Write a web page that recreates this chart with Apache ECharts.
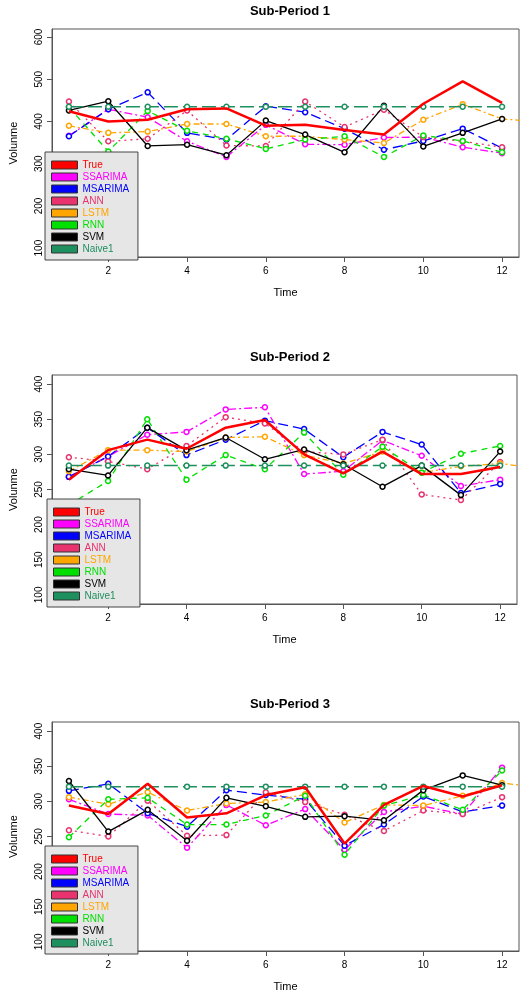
<!DOCTYPE html>
<html><head><meta charset="utf-8">
<script src="https://cdn.jsdelivr.net/npm/echarts@6/dist/echarts.min.js"></script>
<style>html,body{margin:0;background:#fff}#c{width:520px;height:999px}</style>
</head><body><div id="c"></div>
<script>
var names = ['True', 'SSARIMA', 'MSARIMA', 'ANN', 'LSTM', 'RNN', 'SVM', 'Naive1']
var colors = ['#ff0000', '#ff00ff', '#0000ff', '#e8336e', '#ffa500', '#00e000', '#000000', '#1e8f5e']
// sub-period 1 (t = 1..12, LSTM has a 13th point running off the plot)
var p1True = [424, 400, 404, 429, 431, 390, 392, 380, 369, 442, 495, 444]
var p1Ssarima = [366, 429, 410, 353, 316, 392, 346, 345, 362, 363, 339, 325]
var p1Msarima = [365, 429, 469, 373, 357, 436, 422, 383, 333, 354, 383, 337]
var p1Ann = [447, 353, 359, 426, 343, 342, 447, 387, 428, 363, 353, 339]
var p1Lstm = [390, 373, 376, 394, 394, 365, 365, 357, 349, 404, 441, 406, 399]
var p1Rnn = [434, 329, 425, 378, 359, 335, 357, 365, 316, 367, 354, 327]
var p1Svm = [426, 448, 342, 345, 320, 402, 369, 327, 437, 341, 373, 406]
var p1Naive = [435, 435, 435, 435, 435, 435, 435, 435, 435, 435, 435, 435]
// sub-period 2
var p2True = [264, 306, 321, 308, 338, 349, 300, 273, 304, 272, 272, 282]
var p2Ssarima = [268, 297, 328, 332, 364, 367, 272, 276, 320, 298, 255, 264]
var p2Msarima = [268, 297, 338, 299, 321, 348, 336, 296, 332, 314, 245, 258]
var p2Ann = [296, 290, 279, 312, 353, 344, 304, 300, 321, 243, 235, 289]
var p2Lstm = [276, 306, 306, 304, 324, 325, 299, 287, 304, 274, 283, 287, 280]
var p2Rnn = [228, 262, 350, 264, 299, 279, 331, 271, 311, 274, 301, 312]
var p2Svm = [279, 270, 338, 306, 324, 293, 307, 286, 254, 284, 242, 304]
var p2Naive = [284, 284, 284, 284, 284, 284, 284, 284, 284, 284, 284, 284]
// sub-period 3
var p3True = [294, 282, 325, 277, 283, 309, 320, 240, 295, 322, 307, 323]
var p3Ssarima = [303, 282, 280, 234, 295, 266, 289, 231, 285, 293, 282, 348]
var p3Msarima = [315, 325, 283, 264, 316, 309, 303, 237, 267, 307, 285, 294]
var p3Ann = [259, 250, 301, 251, 252, 313, 299, 281, 258, 287, 282, 306]
var p3Lstm = [306, 296, 313, 287, 297, 299, 310, 270, 295, 294, 308, 326, 320]
var p3Rnn = [249, 303, 305, 267, 267, 280, 308, 224, 294, 309, 288, 344]
var p3Svm = [329, 257, 288, 244, 305, 293, 278, 279, 273, 316, 337, 323]
var p3Naive = [321, 321, 321, 321, 321, 321, 321, 321, 321, 321, 321, 321]
var xTicks = [2, 4, 6, 8, 10, 12]
var yTicks1 = [100, 200, 300, 400, 500, 600]
var yTicks23 = [100, 150, 200, 250, 300, 350, 400]

var periods = [
    [p1True, p1Ssarima, p1Msarima, p1Ann, p1Lstm, p1Rnn, p1Svm, p1Naive],
    [p2True, p2Ssarima, p2Msarima, p2Ann, p2Lstm, p2Rnn, p2Svm, p2Naive],
    [p3True, p3Ssarima, p3Msarima, p3Ann, p3Lstm, p3Rnn, p3Svm, p3Naive]
]
var grids = [
    {left: 45, right: 1, top: 29, height: 228},
    {left: 47, right: 3, top: 375, height: 229},
    {left: 45, right: 1, top: 722, height: 229}
]
var yRange = [[79, 619], [87, 413], [87, 413]]
var lineTypes = ['solid', [8, 3, 2, 3], [10, 5], [2, 4], [6, 3, 2, 3], [6, 5], 'solid', [14, 5]]
var widths = [2.5, 1.3, 1.3, 1.3, 1.3, 1.3, 1.3, 1.5]

var option = {
    animation: false,
    backgroundColor: '#fff',
    title: [], grid: [], xAxis: [], yAxis: [], legend: [], series: []
}
grids.forEach(function (g, i) {
    option.grid.push(Object.assign({show: true, borderColor: '#555', borderWidth: 1}, g))
    option.title.push({
        text: 'Sub-Period ' + (i + 1), left: 285, textAlign: 'center', top: g.top - 29,
        textStyle: {fontFamily: 'Liberation Sans', fontSize: 13, fontWeight: 'bold', color: '#000'}
    })
    option.xAxis.push({
        type: 'value', gridIndex: i, min: 0.57, max: 12.43,
        name: 'Time', nameLocation: 'middle', nameGap: 30,
        nameTextStyle: {fontFamily: 'Liberation Sans', fontSize: 11, color: '#000'},
        axisLine: {show: true, onZero: false, lineStyle: {color: '#555'}},
        splitLine: {show: false},
        axisTick: {show: true, customValues: xTicks, length: 5, lineStyle: {color: '#555'}},
        axisLabel: {customValues: xTicks, fontFamily: 'Liberation Sans', fontSize: 10, color: '#000', margin: 9}
    })
    var yt = i == 0 ? yTicks1 : yTicks23
    option.yAxis.push({
        type: 'value', gridIndex: i, min: yRange[i][0], max: yRange[i][1],
        name: 'Volunme', nameLocation: 'middle', nameGap: 33,
        nameTextStyle: {fontFamily: 'Liberation Sans', fontSize: 11, color: '#000'},
        axisLine: {show: true, lineStyle: {color: '#555'}},
        splitLine: {show: false},
        axisTick: {show: true, customValues: yt, length: 5, lineStyle: {color: '#555'}},
        axisLabel: {customValues: yt, rotate: 90, fontFamily: 'Liberation Sans', fontSize: 10, color: '#000', margin: 8}
    })
    // R-style grey legend box in the lower-left corner of each panel
    option.legend.push({
        left: g.left, top: g.top + g.height - 105, orient: 'vertical',
        width: 90, padding: [8, 6, 6, 6], itemGap: 2, itemWidth: 26, itemHeight: 8,
        backgroundColor: '#e6e6e6', borderColor: '#444', borderWidth: 1, borderRadius: 0,
        textStyle: {fontFamily: 'Liberation Sans', fontSize: 10},
        data: names.map(function (n, k) {
            return {
                name: n + ' ', icon: 'rect', textStyle: {color: colors[k]},
                itemStyle: {color: colors[k], borderColor: '#333', borderWidth: 1},
                lineStyle: {color: colors[k], width: 2, type: 'solid'}
            }
        })
    })
    periods[i].forEach(function (vals, k) {
        option.series.push({
            type: 'line', name: names[k] + ' ', xAxisIndex: i, yAxisIndex: i,
            data: vals.map(function (v, t) { return [t + 1, v] }),
            z: k == 0 ? 10 : 3,
            symbol: 'circle', symbolSize: k == 0 ? 0 : 5, showSymbol: true, showAllSymbol: true,
            color: colors[k],
            lineStyle: {color: colors[k], width: widths[k], type: lineTypes[k]},
            itemStyle: {color: '#fff', borderColor: colors[k], borderWidth: 1.5, opacity: 1}
        })
    })
})
var chart = echarts.init(document.getElementById('c'), null, {renderer: 'canvas'})
chart.setOption(option)
</script>
</body></html>
